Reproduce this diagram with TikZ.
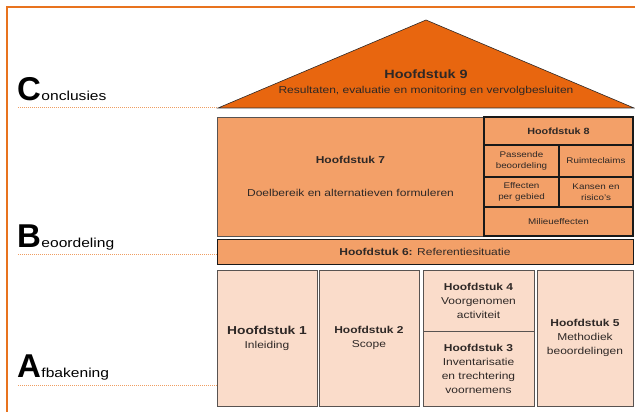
\documentclass[tikz,border=0pt]{standalone}
\usepackage{fontspec}
\setmainfont{Liberation Sans}[FakeStretch=1.2]
\newfontfamily\bigfam{Liberation Sans}
\definecolor{frameorange}{HTML}{E8731E}
\definecolor{rooforange}{HTML}{E8660F}
\definecolor{midorange}{HTML}{F3A068}
\definecolor{paleorange}{HTML}{FADCCA}
\definecolor{inkgray}{HTML}{2E2826}
\tikzset{
  bigletter/.style={anchor=base west,inner sep=0pt,font=\bigfam\fontsize{33}{33}\selectfont\bfseries},
  smallword/.style={anchor=base west,inner sep=0pt,font=\fontsize{13}{13}\selectfont},
  dotline/.style={draw=frameorange!70,line width=0.9pt,dash pattern=on 1pt off 1pt},
  midbox/.style={draw=inkgray!80,fill=midorange,align=center,inner sep=0pt,text=inkgray,font=\fontsize{10}{12}\selectfont},
  cellbox/.style={draw=black!90,line width=1.3pt,fill=midorange,align=center,inner sep=0pt,text=inkgray,font=\fontsize{8.2}{11}\selectfont},
  palebox/.style={draw=inkgray!80,line width=0.9pt,fill=paleorange,align=center,inner sep=0pt,text=inkgray,font=\fontsize{10}{14}\selectfont}
}
\begin{document}
\begin{tikzpicture}[x=1pt,y=-1pt]
  \useasboundingbox (0,0) rectangle (635,412);
  \draw [frameorange,line width=2pt] (7,412) -- (7,7.5) -- (635,7.5);
  % roof
  \coordinate (roofL) at (218,108);
  \coordinate (roofT) at (426,20);
  \coordinate (roofR) at (634,108);
  \filldraw [fill=rooforange,draw=inkgray,line width=0.6pt] (roofL) -- (roofT) -- (roofR) -- cycle;
  \node (hs9) at (426,74) [text=inkgray,font=\fontsize{12}{14}\selectfont\bfseries] {Hoofdstuk 9};
  \node (hs9t) at (426,91) [text=inkgray,font=\fontsize{10}{12}\selectfont] {Resultaten, evaluatie en monitoring en vervolgbesluiten};
  % middle
  \node (hs7) at (350.5,176.5) [midbox,minimum width=267pt,minimum height=119pt] {\textbf{Hoofdstuk 7}\\[21pt]Doelbereik en alternatieven formuleren};
  \node (hs8) at (558.5,131) [cellbox,minimum width=149pt,minimum height=28pt,font=\fontsize{9}{11}\selectfont\bfseries] {Hoofdstuk 8};
  \node (pb) at (521.5,161) [cellbox,minimum width=75pt,minimum height=32pt] {Passende\\beoordeling};
  \node (rc) at (596,161) [cellbox,minimum width=74pt,minimum height=32pt] {Ruimteclaims};
  \node (epg) at (521.5,192) [cellbox,minimum width=75pt,minimum height=30pt] {Effecten\\per gebied};
  \node (ker) at (596,192) [cellbox,minimum width=74pt,minimum height=30pt] {Kansen en\\risico's};
  \node (me) at (558.5,221.5) [cellbox,minimum width=149pt,minimum height=29pt] {Milieueffecten};
  \node (hs6) at (425,251.5) [midbox,draw=black!90,line width=1pt,minimum width=416pt,minimum height=25pt] {\textbf{Hoofdstuk 6:} Referentiesituatie};
  % bottom
  \node (hs1) at (267,338) [palebox,minimum width=100pt,minimum height=136pt] {{\fontsize{11.5}{14}\selectfont\bfseries Hoofdstuk 1}\\Inleiding};
  \node (hs2) at (369,338) [palebox,minimum width=100pt,minimum height=136pt] {\textbf{Hoofdstuk 2}\\Scope};
  \node (hs4) at (478.5,300.5) [palebox,minimum width=111pt,minimum height=61pt] {\textbf{Hoofdstuk 4}\\Voorgenomen\\activiteit};
  \node (hs3) at (478.5,368.5) [palebox,minimum width=111pt,minimum height=75pt] {\textbf{Hoofdstuk 3}\\Inventarisatie\\en trechtering\\voornemens};
  \node (hs5) at (585,338) [palebox,minimum width=96pt,minimum height=136pt] {\textbf{Hoofdstuk 5}\\Methodiek\\beoordelingen};
  % levels
  \node (lC) at (17,101) [bigletter] {C};
  \node (lCw) at (lC.base east) [smallword] {onclusies};
  \node (lB) at (17,247) [bigletter] {B};
  \node (lBw) at (lB.base east) [smallword] {eoordeling};
  \node (lA) at (17,377) [bigletter] {A};
  \node (lAw) at (lA.base east) [smallword] {fbakening};
  \coordinate (dC) at (18,107);
  \coordinate (dB) at (18,254);
  \coordinate (dA) at (18,385);
  \draw [dotline] (dC) -- (dC -| roofL);
  \draw [dotline] (dB) -- (dB -| hs6.west);
  \draw [dotline] (dA) -- (dA -| hs1.west);
\end{tikzpicture}
\end{document}
